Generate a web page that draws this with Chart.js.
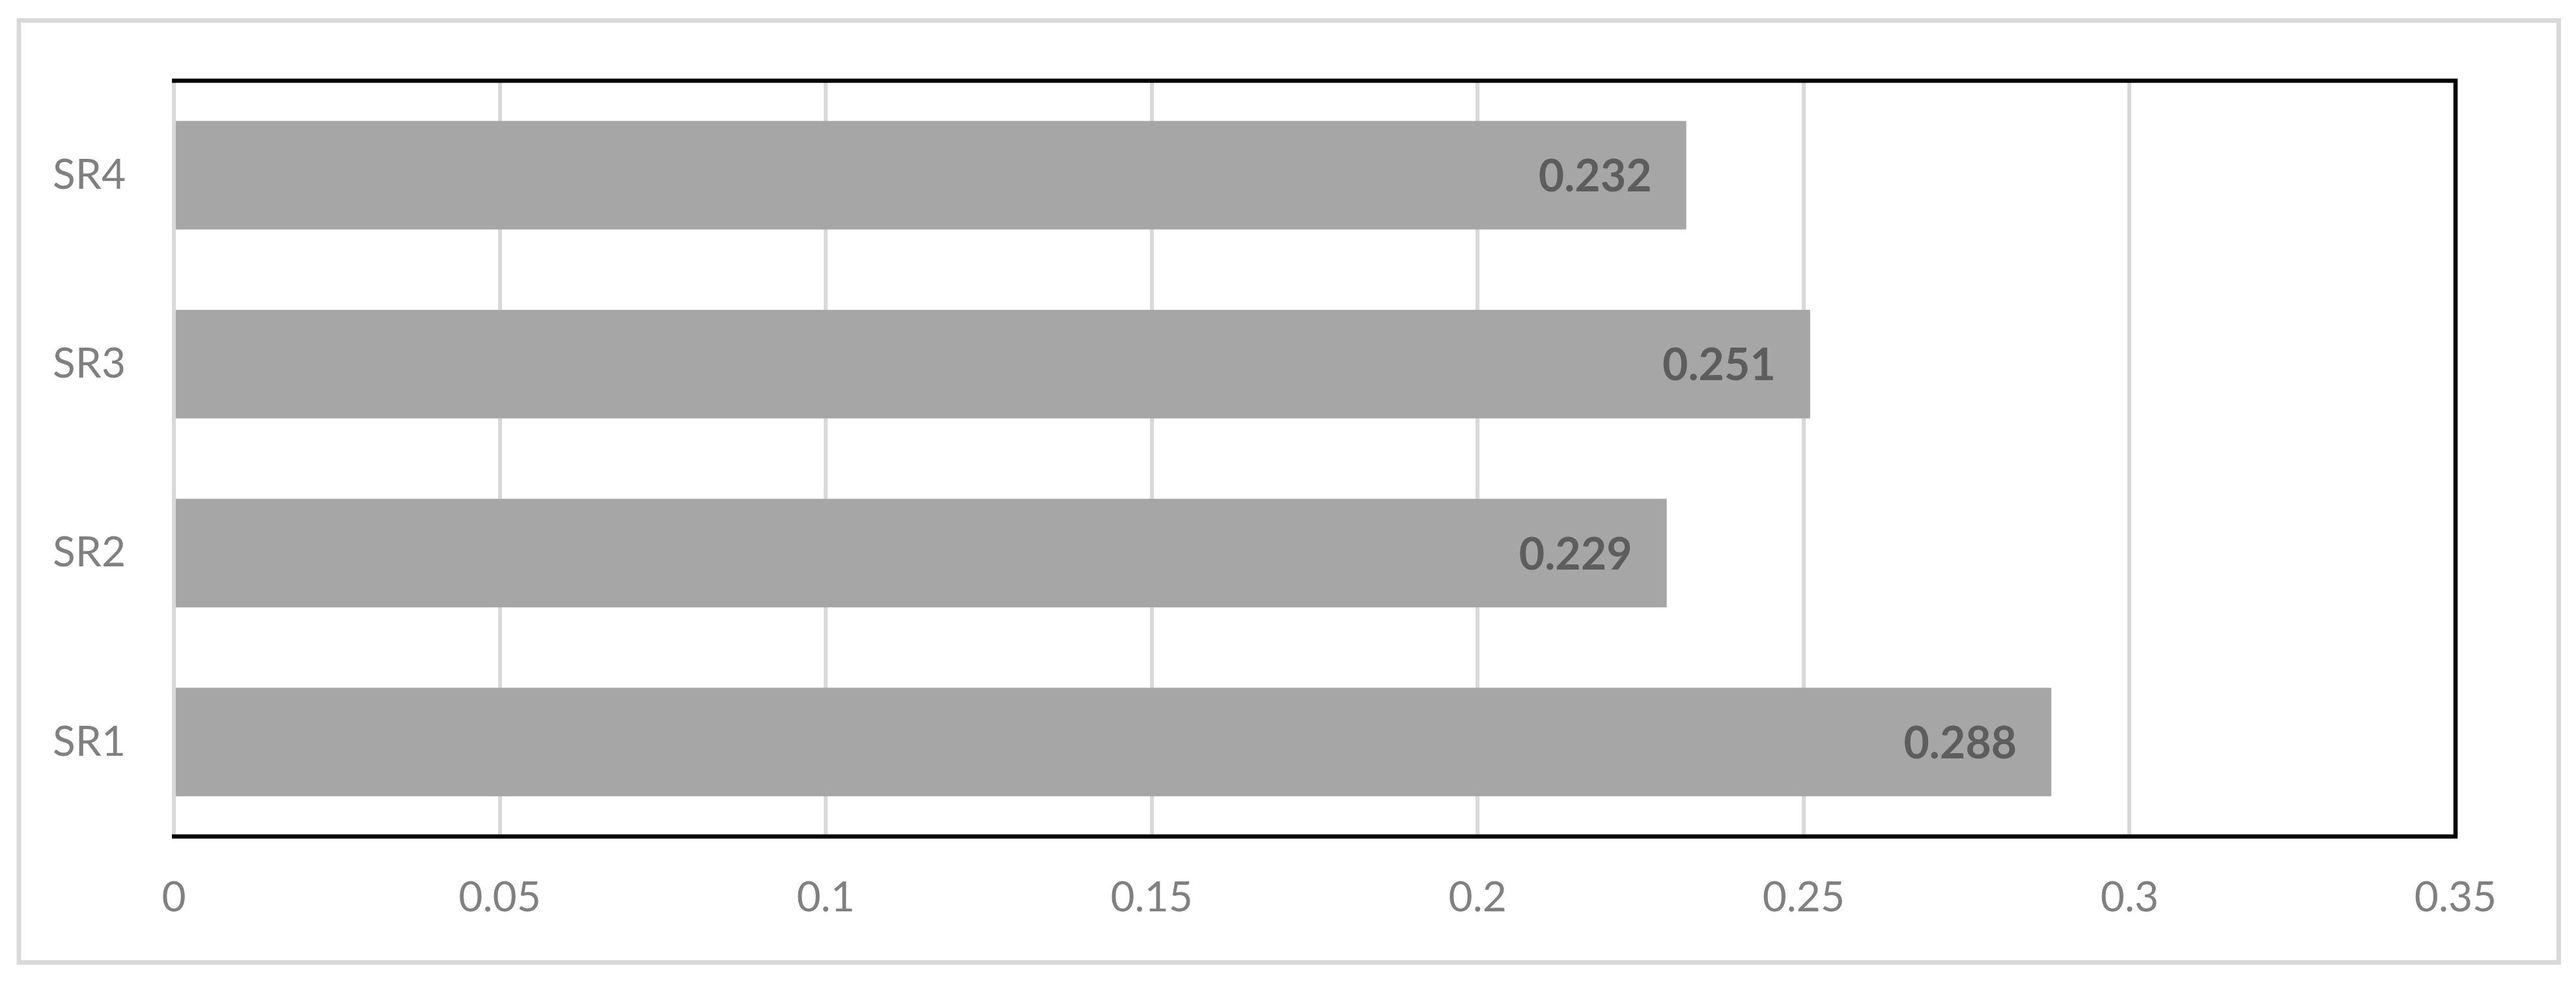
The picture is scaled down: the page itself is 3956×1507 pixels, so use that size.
<!DOCTYPE html>
<html lang="en">
<head>
  <meta charset="UTF-8">
  <title>SR bars</title>
  <style>
    html, body { margin: 0; padding: 0; background: #fff; }
    #wrap { width: 3956px; height: 1507px; }
  </style>
</head>
<body>
  <div id="wrap"><canvas id="myChart" width="3956" height="1507"></canvas></div>

  <script src="https://cdn.jsdelivr.net/npm/chart.js"></script>
  <script>
    // data
    const categories = ['SR1', 'SR2', 'SR3', 'SR4'];
    const values = [0.288, 0.229, 0.251, 0.232];
    const xTickLabels = ['0', '0.05', '0.1', '0.15', '0.2', '0.25', '0.3', '0.35'];

    const tickFont = { family: 'Lato, "Open Sans", sans-serif', size: 64 };

    // outer frame of the chart box + black frame round the plot
    const frames = {
      id: 'frames',
      beforeDraw(chart) {
        const c = chart.ctx;
        c.save();
        c.strokeStyle = '#d9d9d9';
        c.lineWidth = 7;
        c.strokeRect(29, 31.5, 3900.5, 1447);
        c.restore();
      },
      afterDatasetsDraw(chart) {
        const a = chart.chartArea;
        const c = chart.ctx;
        c.save();
        c.strokeStyle = '#000';
        c.lineWidth = 6.5;
        c.beginPath();
        c.moveTo(a.left - 3, a.top);
        c.lineTo(a.right, a.top);
        c.lineTo(a.right, a.bottom);
        c.lineTo(a.left - 3, a.bottom);
        c.stroke();
        c.restore();
      }
    };

    // value labels inside the bar end
    const barLabels = {
      id: 'barLabels',
      afterDatasetsDraw(chart) {
        const c = chart.ctx;
        const meta = chart.getDatasetMeta(0);
        c.save();
        c.font = 'bold 68px Lato, "Open Sans", sans-serif';
        c.fillStyle = '#5d5d5d';
        c.textAlign = 'right';
        c.textBaseline = 'middle';
        meta.data.forEach((bar, i) => {
          c.fillText(values[i].toFixed(3), bar.x - 53, bar.y + 3);
        });
        c.restore();
      }
    };

    const ctx = document.getElementById('myChart');
    const myChart = new Chart(ctx, {
      type: 'bar',
      data: {
        labels: categories,
        datasets: [{
          data: values,
          backgroundColor: '#a6a6a6',
          borderWidth: 0,
          barPercentage: 1,
          categoryPercentage: 0.575
        }]
      },
      options: {
        indexAxis: 'y',
        responsive: false,
        animation: false,
        devicePixelRatio: 1,
        layout: { padding: { left: 30, right: 185, top: 124, bottom: 72 } },
        plugins: {
          legend: { display: false },
          tooltip: { enabled: false }
        },
        scales: {
          x: {
            min: 0,
            max: 0.35,
            ticks: {
              stepSize: 0.05,
              color: '#808080',
              font: tickFont,
              padding: 56,
              maxRotation: 0,
              callback: (v, i) => xTickLabels[i]
            },
            grid: { color: '#d9d9d9', lineWidth: 6, drawTicks: false },
            border: { display: false },
            afterFit(scale) { scale.height = 150; }
          },
          y: {
            reverse: true,
            ticks: { color: '#808080', font: tickFont, padding: 74 },
            grid: { display: false, drawTicks: false },
            border: { display: false },
            afterFit(scale) { scale.width = 237; }
          }
        }
      },
      plugins: [frames, barLabels]
    });
  </script>
</body>
</html>
